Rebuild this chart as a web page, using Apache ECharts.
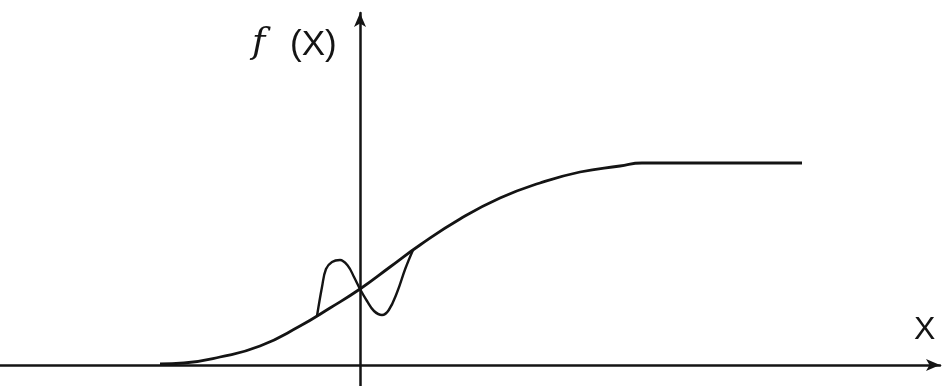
<!DOCTYPE html>
<html>
<head>
<meta charset="utf-8">
<script src="https://cdn.jsdelivr.net/npm/echarts@6/dist/echarts.min.js"></script>
<style>html,body{margin:0;padding:0;background:#fff;}#c{width:945px;height:386px;}</style>
</head>
<body>
<div id="c"></div>
<script>
// Smooth S-shaped curve f(x)
var sigmoidX = [-5, -4.4, -3.5, -2.5, -1.5, -0.75, 0, 0.75, 1.5, 2.5, 3.5, 4.5, 5.5, 6.5, 7.05, 11.05];
var sigmoidY = [0.01, 0.02, 0.08, 0.19, 0.39, 0.57, 0.76, 0.98, 1.20, 1.46, 1.67, 1.82, 1.93, 1.99, 2.02, 2.02];
// Oscillating perturbation around x = 0
var wiggleX = [-1.075, -0.95, -0.85, -0.7, -0.5, -0.3, -0.15, 0, 0.175, 0.35, 0.55, 0.72, 0.93, 1.13, 1.325];
var wiggleY = [0.49, 0.78, 0.96, 1.03, 1.05, 0.99, 0.88, 0.76, 0.64, 0.54, 0.50, 0.55, 0.73, 0.96, 1.15];
var xName = 'X';
var yName = 'f (X)';

function pairs(xs, ys) { return xs.map(function (x, i) { return [x, ys[i]]; }); }

var ink = '#141414';
var chart = echarts.init(document.getElementById('c'));
chart.setOption({
  animation: false,
  backgroundColor: '#ffffff',
  grid: { left: 0, right: 5, top: 13, bottom: 0 },
  xAxis: {
    type: 'value', min: -9, max: 14.5,
    axisLine: { show: true, onZero: true, symbol: ['none', 'arrow'], symbolSize: [9, 14], lineStyle: { color: ink, width: 2.5 } },
    axisTick: { show: false }, axisLabel: { show: false }, splitLine: { show: false }
  },
  yAxis: {
    type: 'value', min: -0.21, max: 3.52,
    axisLine: { show: true, onZero: true, symbol: ['none', 'arrow'], symbolSize: [9, 14], lineStyle: { color: ink, width: 2.5 } },
    axisTick: { show: false }, axisLabel: { show: false }, splitLine: { show: false }
  },
  graphic: [
    { type: 'text', left: 252, top: 26, style: { text: 'f', font: 'italic 36px "DejaVu Serif", serif', fill: ink } },
    { type: 'text', left: 290, top: 28, style: { text: '(X)', font: '35px "Liberation Sans", Arial, sans-serif', fill: ink } },
    { type: 'text', left: 914, top: 314, style: { text: xName, font: '32px "Liberation Sans", Arial, sans-serif', fill: ink } }
  ],
  series: [
    { type: 'line', data: pairs(sigmoidX, sigmoidY), smooth: 0.5, showSymbol: false, lineStyle: { color: ink, width: 2.8 } },
    { type: 'line', data: pairs(wiggleX, wiggleY), smooth: 0.4, showSymbol: false, lineStyle: { color: ink, width: 2.4 } }
  ]
});
</script>
</body>
</html>
